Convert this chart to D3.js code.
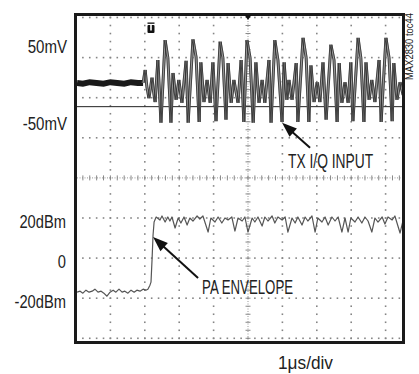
<!DOCTYPE html>
<html>
<head>
<meta charset="utf-8">
<script src="https://cdn.jsdelivr.net/npm/d3@7"></script>
<style>
body { margin: 0; background: #fff; }
svg { display: block; }
text { font-family: "Liberation Sans", Arial, sans-serif; fill: #222; }
</style>
</head>
<body>
<svg id="chart" width="419" height="374"></svg>
<script>
// ---- data read off the scope shot: [time in us, value] ----
// channel 1, TX I/Q input (mV)
const iqIdle = [[0.03, 3], [0.2, 2], [0.4, 4], [0.6, 3], [0.8, 2], [1.0, 4], [1.2, 3], [1.4, 2], [1.6, 4], [1.8, 3], [1.95, 3]];
const iqBurst = [
	[1.95, 3], [2.01, 20], [2.06, -2], [2.12, -17], [2.21, 10], [2.24, -4], [2.30, -22], [2.38, 33], [2.47, -49],
	[2.59, 59], [2.67, 36], [2.76, -49], [2.82, 16], [2.91, -19], [2.99, 7], [3.08, -23], [3.20, 32], [3.26, -49],
	[3.40, 60], [3.49, 37], [3.58, -48], [3.63, 30], [3.72, -22], [3.81, 7], [3.90, -23], [3.98, 30], [4.07, -47],
	[4.19, 57], [4.27, 36], [4.36, -45], [4.42, 29], [4.51, -23], [4.59, 7], [4.71, -23], [4.80, 33], [4.88, -48],
	[4.97, 59], [5.06, 36], [5.15, -49], [5.23, 30], [5.32, -23], [5.41, 7], [5.49, -23], [5.61, 33], [5.67, -49],
	[5.78, 59], [5.87, 33], [5.99, -48], [6.05, 30], [6.13, -19], [6.19, 7], [6.28, -19], [6.40, 29], [6.45, -48],
	[6.60, 62], [6.69, 36], [6.77, -48], [6.83, 26], [6.92, -22], [7.01, 4], [7.09, -22], [7.18, 30], [7.27, -45],
	[7.41, 53], [7.50, 33], [7.59, -48], [7.65, 29], [7.73, -23], [7.82, 4], [7.91, -23], [7.99, 30], [8.05, -47],
	[8.20, 62], [8.28, 36], [8.37, -48], [8.43, 30], [8.52, -19], [8.60, 7], [8.69, -22], [8.81, 33], [8.87, -48],
	[9.01, 62], [9.10, 36], [9.19, -47], [9.24, 29], [9.33, -19], [9.42, 4], [9.51, -13]
];
const iqRefLevel = -28;

// channel 2, PA envelope (dBm)
const paEnvelope = [
	[0.03, -17], [0.12, -16.5], [0.20, -17.5], [0.29, -16], [0.38, -17], [0.47, -16.5], [0.55, -15.5], [0.64, -17],
	[0.73, -16.5], [0.81, -17.5], [0.90, -19], [0.99, -17], [1.08, -16], [1.16, -17], [1.25, -15.5], [1.34, -17],
	[1.42, -16.5], [1.51, -17.5], [1.60, -16], [1.69, -17], [1.77, -16], [1.86, -16.5], [1.95, -15.5], [2.03, -16],
	[2.09, -15.5], [2.15, -13.5], [2.18, -12], [2.21, -1], [2.24, 11.5], [2.27, 18], [2.33, 20.5],
	[2.44, 19], [2.50, 21], [2.59, 18], [2.67, 20.5], [2.73, 18.5], [2.79, 20.5], [2.88, 15], [2.97, 20],
	[3.05, 17.5], [3.14, 20.5], [3.23, 16.5], [3.31, 20], [3.40, 18.5], [3.52, 21], [3.60, 19.5], [3.69, 21],
	[3.84, 13], [3.92, 20], [4.04, 18], [4.13, 20.5], [4.24, 17.5], [4.33, 20], [4.42, 19], [4.53, 20.5],
	[4.62, 13.5], [4.71, 20], [4.83, 18.5], [4.91, 20.5], [5.00, 13], [5.12, 20], [5.20, 18], [5.29, 20.5],
	[5.41, 16], [5.49, 20.5], [5.58, 18.5], [5.70, 21], [5.78, 17.5], [5.87, 20.5], [5.99, 19], [6.08, 20.5],
	[6.16, 13], [6.28, 20], [6.37, 17.5], [6.45, 20.5], [6.57, 16.5], [6.66, 20.5], [6.74, 18.5], [6.86, 21],
	[6.95, 13], [7.03, 20], [7.15, 18], [7.24, 20.5], [7.33, 16.5], [7.44, 20.5], [7.53, 18.5], [7.62, 20.5],
	[7.73, 13], [7.82, 20], [7.91, 13], [7.99, 20], [8.11, 18], [8.20, 20.5], [8.31, 17.5], [8.40, 20.5],
	[8.49, 18.5], [8.60, 13], [8.69, 20], [8.78, 18], [8.90, 20.5], [8.98, 17], [9.07, 20.5], [9.19, 19],
	[9.27, 21], [9.42, 12.5], [9.51, 19]
];

const iqTicks = [50, -50];
const paTicks = [20, 0, -20];
const triggerTime = 2.18;
const timeLabel = '1\u03bcs/div';
const partLabel = 'MAX2830 toc44';
const notes = [
	{text: 'TX I/Q INPUT', ch: 'iq', t: 5.99, v: -49},
	{text: 'PA ENVELOPE', ch: 'pa', t: 2.24, v: 10.5}
];

// ---- scales ----
const frame = {left: 77, top: 16, right: 402, bottom: 341};
const x = d3.scaleLinear().domain([0, 10]).range([76, 420]);
const yDiv = d3.scaleLinear().domain([-4, 4]).range([338.3, 17.5]);
const yIq = d3.scaleLinear().domain([-50, 50]).range([123.5, 47]);
const yPa = d3.scaleLinear().domain([-40, 120]).range([338.3, 17.5]);

const svg = d3.select('#chart');

// squeeze text to look like the condensed face of the original
function condense(sel, k) {
	sel.each(function() {
		const w = this.getComputedTextLength();
		d3.select(this).attr('textLength', w * k).attr('lengthAdjust', 'spacingAndGlyphs');
	});
}

svg.append('clipPath').attr('id', 'screen')
	.append('rect')
	.attr('x', frame.left).attr('y', frame.top)
	.attr('width', frame.right - frame.left).attr('height', frame.bottom - frame.top);

// ---- graticule ----
const grid = svg.append('g').attr('clip-path', 'url(#screen)');
const minorT = d3.range(0, 10.001, 0.2);
const minorDiv = d3.range(-4, 4.001, 0.2);

d3.range(-4, 5).forEach(function(row) {
	const yy = yDiv(row);
	if (row === 0) {
		grid.append('line').attr('x1', frame.left).attr('x2', frame.right).attr('y1', yy).attr('y2', yy)
			.attr('stroke', '#999').attr('stroke-width', 1).attr('stroke-dasharray', '1,1.5');
		grid.selectAll(null).data(minorT).join('line')
			.attr('x1', d => x(d)).attr('x2', d => x(d))
			.attr('y1', yy - 2.5).attr('y2', yy + 2.5)
			.attr('stroke', '#888').attr('stroke-width', 1);
	} else {
		grid.selectAll(null).data(minorT).join('rect')
			.attr('x', d => x(d) - 0.8).attr('y', yy - 0.8)
			.attr('width', 1.6).attr('height', 1.6).attr('fill', '#858585');
	}
});

d3.range(1, 10).forEach(function(col) {
	const xx = x(col);
	if (col === 5) {
		grid.append('line').attr('x1', xx).attr('x2', xx).attr('y1', frame.top).attr('y2', frame.bottom)
			.attr('stroke', '#999').attr('stroke-width', 1).attr('stroke-dasharray', '1,1.5');
		grid.selectAll(null).data(minorDiv).join('line')
			.attr('x1', xx - 2.5).attr('x2', xx + 2.5)
			.attr('y1', d => yDiv(d)).attr('y2', d => yDiv(d))
			.attr('stroke', '#888').attr('stroke-width', 1);
	} else {
		grid.selectAll(null).data(minorDiv).join('rect')
			.attr('x', xx - 0.8).attr('y', d => yDiv(d) - 0.8)
			.attr('width', 1.6).attr('height', 1.6).attr('fill', '#858585');
	}
});

// ---- traces ----
const traces = svg.append('g').attr('clip-path', 'url(#screen)');

traces.append('line')
	.attr('x1', frame.left).attr('x2', frame.right)
	.attr('y1', yIq(iqRefLevel)).attr('y2', yIq(iqRefLevel))
	.attr('stroke', '#222').attr('stroke-width', 1);

const iqLine = d3.line().x(d => x(d[0])).y(d => yIq(d[1]));
const paLine = d3.line().x(d => x(d[0])).y(d => yPa(d[1]));

traces.append('path').datum(iqIdle)
	.attr('d', iqLine).attr('fill', 'none')
	.attr('stroke', '#1a1a1a').attr('stroke-width', 6);

// persistence look: grey body with dark edges from a slightly jittered double sweep
traces.append('path').datum(iqBurst)
	.attr('d', iqLine).attr('fill', 'none')
	.attr('stroke', '#9a9a9a').attr('stroke-width', 2.8);
[-1, 1].forEach(function(off) {
	traces.append('path').datum(iqBurst)
		.attr('d', iqLine).attr('fill', 'none')
		.attr('transform', 'translate(' + off + ',0)')
		.attr('stroke', '#2a2a2a').attr('stroke-width', 0.8);
});

traces.append('path').datum(paEnvelope)
	.attr('d', paLine).attr('fill', 'none')
	.attr('stroke', '#555').attr('stroke-width', 1.2).attr('stroke-linejoin', 'round');

// ---- frame and markers ----
svg.append('rect')
	.attr('x', 75.5).attr('y', 14.5).attr('width', 328).attr('height', 328)
	.attr('fill', 'none').attr('stroke', '#1a1a1a').attr('stroke-width', 3);

// centre marker on top edge
svg.append('path')
	.attr('d', 'M' + (x(5) - 3.5) + ',15 L' + (x(5) + 3.5) + ',15 L' + x(5) + ',20 Z')
	.attr('fill', '#111');

// trigger marker
const tx = x(triggerTime);
svg.append('rect').attr('x', tx - 3.5).attr('y', 22.5).attr('width', 7).attr('height', 1.3).attr('fill', '#111');
svg.append('rect').attr('x', tx - 3.5).attr('y', 25).attr('width', 7).attr('height', 8).attr('rx', 1).attr('fill', '#111');
svg.append('rect').attr('x', tx - 0.8).attr('y', 25).attr('width', 1.6).attr('height', 5.5).attr('fill', '#fff');

// ---- labels ----
svg.selectAll('.iqLabel').data(iqTicks).join('text')
	.attr('class', 'iqLabel')
	.attr('x', 67).attr('y', d => yIq(d) + 6)
	.attr('text-anchor', 'end').style('font-size', '17.5px')
	.text(d => d + 'mV')
	.call(condense, 0.86);

svg.selectAll('.paLabel').data(paTicks).join('text')
	.attr('class', 'paLabel')
	.attr('x', 66).attr('y', d => yPa(d) + 10)
	.attr('text-anchor', 'end').style('font-size', '17.5px')
	.text(d => d === 0 ? '0' : d + 'dBm')
	.call(condense, 0.84);

svg.append('text')
	.attr('x', 278).attr('y', 369)
	.attr('textLength', 55).attr('lengthAdjust', 'spacingAndGlyphs')
	.style('font-size', '17.5px')
	.text(timeLabel);

svg.append('text')
	.attr('transform', 'translate(412.5,80) rotate(-90)')
	.attr('textLength', 67).attr('lengthAdjust', 'spacingAndGlyphs')
	.style('font-size', '11px')
	.text(partLabel);

// ---- annotations ----
const noteStyle = {
	iq: {scale: yIq, tail: [28, 25], text: [6, 45], len: 85},
	pa: {scale: yPa, tail: [45, 41], text: [49, 57], len: 91}
};

notes.forEach(function(n) {
	const s = noteStyle[n.ch];
	const x2 = x(n.t), y2 = s.scale(n.v);
	const x1 = x2 + s.tail[0], y1 = y2 + s.tail[1];
	const L = Math.hypot(x2 - x1, y2 - y1);
	const ux = (x2 - x1) / L, uy = (y2 - y1) / L;
	const head = 15, half = 5.5;
	const bx = x2 - ux * head, by = y2 - uy * head;

	svg.append('line')
		.attr('x1', x1).attr('y1', y1).attr('x2', bx + ux * 2).attr('y2', by + uy * 2)
		.attr('stroke', '#111').attr('stroke-width', 2);
	svg.append('path')
		.attr('d', 'M' + x2 + ',' + y2 +
			'L' + (bx - uy * half) + ',' + (by + ux * half) +
			'L' + (bx + uy * half) + ',' + (by - ux * half) + 'Z')
		.attr('fill', '#111');

	svg.append('text')
		.attr('x', x2 + s.text[0]).attr('y', y2 + s.text[1])
		.attr('textLength', s.len).attr('lengthAdjust', 'spacingAndGlyphs')
		.style('font-size', '20px')
		.text(n.text);
});
</script>
</body>
</html>
